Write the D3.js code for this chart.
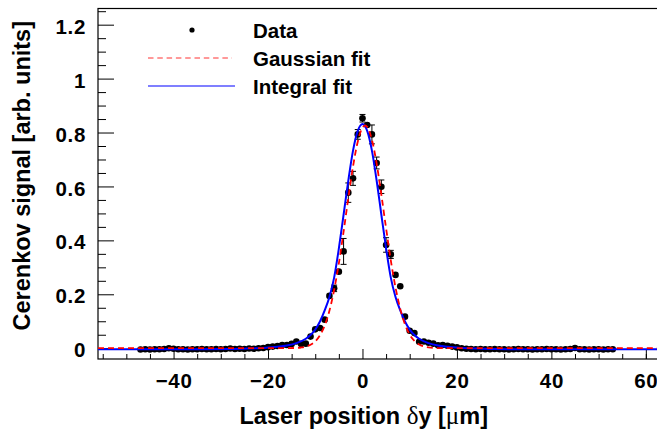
<!DOCTYPE html>
<html>

<head>
    <meta charset="utf-8">
    <script src="https://d3js.org/d3.v7.min.js"></script>
    <style>
        body { margin: 0; background: #fff; }
        text { font-family: "Liberation Sans", Arial, Helvetica, sans-serif; font-weight: bold; fill: #000; }
    </style>
</head>

<body>

    <svg id="chart"></svg>

    <script>

        // measured points: laser position (um), signal, error
        const positions = [-47, -46, -45, -44, -43, -42, -41, -40, -39, -38, -37, -36, -35, -34, -33, -32, -31, -30,
            -29, -28, -27, -26, -25, -24, -23, -22, -21, -20, -19, -18, -17, -16, -15, -14, -13, -12, -11, -10,
            -9, -8, -7, -6, -5, -4, -3, -2, -1, 0, 1, 2, 3, 4, 5, 6, 7, 8, 9, 10, 11, 12, 13, 14, 15, 16, 17,
            18, 19, 20, 21, 22, 23, 24, 25, 26, 27, 28, 29, 30, 31, 32, 33, 34, 35, 36, 37, 38, 39, 40, 41, 42,
            43, 44, 45, 46, 47, 48, 49, 50, 51, 52, 53];
        const signal = [-0.005, -0.004, -0.005, -0.004, -0.004, -0.003, 0.000, -0.002, -0.004, -0.004, -0.005, -0.004,
            -0.004, -0.003, -0.004, -0.004, -0.003, -0.004, -0.003, -0.001, -0.003, -0.002, -0.003, -0.001, -0.002,
            0.000, 0.001, 0.004, 0.006, 0.008, 0.012, 0.012, 0.016, 0.025, 0.016, 0.017, 0.043, 0.070,
            0.075, 0.106, 0.194, 0.222, 0.284, 0.359, 0.577, 0.630, 0.793, 0.853, 0.828, 0.793, 0.687, 0.599,
            0.383, 0.348, 0.272, 0.230, 0.117, 0.065, 0.056, 0.024, 0.025, 0.020, 0.017, 0.011, 0.012,
            0.009, 0.006, 0.003, 0.000, -0.002, -0.003, -0.004, -0.003, -0.004, -0.004, -0.003, -0.004, -0.004,
            -0.005, -0.004, -0.003, -0.004, -0.004, -0.005, -0.004, -0.004, -0.003, -0.004, -0.004, -0.005,
            -0.004, -0.003, 0.001, -0.004, -0.004, -0.005, -0.004, -0.004, -0.005, -0.004, -0.004];
        const errors = [0.003, 0.003, 0.003, 0.003, 0.003, 0.003, 0.003, 0.003, 0.003, 0.003, 0.003, 0.003,
            0.003, 0.003, 0.003, 0.003, 0.003, 0.003, 0.003, 0.003, 0.003, 0.003, 0.003, 0.003, 0.003,
            0.003, 0.003, 0.003, 0.003, 0.003, 0.003, 0.003, 0.003, 0.004, 0.004, 0.004, 0.005, 0.005,
            0.005, 0.006, 0.006, 0.012, 0.008, 0.048, 0.036, 0.026, 0.018, 0.014, 0.010, 0.035, 0.022, 0.025,
            0.027, 0.015, 0.010, 0.008, 0.006, 0.005, 0.004, 0.004, 0.004, 0.003, 0.003, 0.003, 0.003,
            0.003, 0.003, 0.003, 0.003, 0.003, 0.003, 0.003, 0.003, 0.003, 0.003, 0.003, 0.003, 0.003,
            0.003, 0.003, 0.003, 0.003, 0.003, 0.003, 0.003, 0.003, 0.003, 0.003, 0.003, 0.003,
            0.003, 0.003, 0.003, 0.003, 0.003, 0.003, 0.003, 0.003, 0.003, 0.003, 0.003];

        // gaussian fit (red dashed)
        const gaussX = [-56, -20, -16, -14, -13, -12, -11, -10, -9, -8, -7, -6, -5, -4, -3, -2, -1, 0, 0.55, 1, 2, 3, 4,
            5, 6, 7, 8, 9, 10, 11, 12, 13, 14, 15, 17, 21, 63];
        const gaussY = [0, 0, 0.0002, 0.0011, 0.0027, 0.006, 0.0128, 0.0255, 0.048, 0.084, 0.139, 0.216, 0.315, 0.432,
            0.557, 0.674, 0.766, 0.818, 0.826, 0.821, 0.773, 0.685, 0.569, 0.445, 0.326, 0.225, 0.146, 0.0887, 0.0507,
            0.0272, 0.0137, 0.0065, 0.0029, 0.0012, 0.0002, 0, 0];

        // integral fit (blue solid)
        const integralX = [-56, -35, -28, -24, -21, -18, -16, -14, -12, -11, -10, -9, -8, -7, -6, -5, -4, -3, -2, -1, 0,
            1, 2, 3, 4, 5, 6, 7, 8, 9, 10, 11, 12, 14, 16, 18, 21, 24, 28, 35, 63];
        const integralY = [-0.004, -0.004, -0.003, -0.001, 0.001, 0.005, 0.010, 0.019, 0.035, 0.049, 0.069, 0.099, 0.140,
            0.190, 0.262, 0.370, 0.495, 0.622, 0.733, 0.806, 0.832, 0.806, 0.733, 0.622, 0.495, 0.370, 0.262, 0.190,
            0.140, 0.099, 0.069, 0.049, 0.035, 0.019, 0.010, 0.005, 0.001, -0.001, -0.003, -0.004, -0.004];

        const xMajor = [-40, -20, 0, 20, 40, 60];
        const xMinor = [-55, -50, -45, -35, -30, -25, -15, -10, -5, 5, 10, 15, 25, 30, 35, 45, 50, 55, 60];
        const yMajor = [0, 0.2, 0.4, 0.6, 0.8, 1, 1.2];
        const yLabels = ["0", "0.2", "0.4", "0.6", "0.8", "1", "1.2"];
        const yMinor = [0.05, 0.1, 0.15, 0.25, 0.3, 0.35, 0.45, 0.5, 0.55, 0.65, 0.7, 0.75, 0.85, 0.9, 0.95, 1.05, 1.1, 1.15, 1.25];

        const legendItems = ["Data", "Gaussian fit", "Integral fit"];

        var width = 657, height = 433;
        var plot = { left: 98, right: 660, top: 8.5, bottom: 359 };

        var svg = d3.select("#chart")
            .attr("width", width)
            .attr("height", height);

        var x = d3.scaleLinear().domain([-56, 63]).range([plot.left, plot.right]);
        var y = d3.scaleLinear().domain([-0.04, 1.26]).range([plot.bottom, plot.top]);

        // frame
        svg.append("rect")
            .attr("x", plot.left).attr("y", plot.top)
            .attr("width", plot.right - plot.left).attr("height", plot.bottom - plot.top)
            .attr("fill", "none").attr("stroke", "#000").attr("stroke-width", 1.2);

        // x axis, ticks pointing inward
        var gx = svg.append("g").attr("transform", "translate(0," + plot.bottom + ")")
            .call(d3.axisBottom(x).tickValues(xMajor).tickSize(-10).tickPadding(14))
        gx.append("g")
            .call(d3.axisBottom(x).tickValues(xMinor).tickSize(-5).tickFormat(""))
        svg.selectAll(".domain").remove()
        gx.selectAll("text").style("font-size", "20.5px").style("font-family", null).style("letter-spacing", "0.7px")

        // y axis
        var gy = svg.append("g").attr("transform", "translate(" + plot.left + ",0)")
            .call(d3.axisLeft(y).tickValues(yMajor).tickSize(-16).tickPadding(12)
                .tickFormat((d, i) => yLabels[i]))
        gy.append("g")
            .call(d3.axisLeft(y).tickValues(yMinor).tickSize(-8).tickFormat(""))
        svg.selectAll(".domain").remove()
        gy.selectAll("text").style("font-size", "20.5px").style("font-family", null)
            .style("letter-spacing", "0.7px").attr("dy", "0.42em")

        svg.selectAll(".tick line").attr("stroke", "#000").attr("stroke-width", 1)

        // axis titles
        var xt = svg.append("text")
            .attr("x", 488).attr("y", 424)
            .attr("text-anchor", "end")
            .style("font-size", "23.5px")
        xt.append("tspan").text("Laser position ")
        xt.append("tspan").text("δ").style("font-family", "'Liberation Serif', serif").style("font-weight", "normal").style("font-size", "25px")
        xt.append("tspan").text("y [")
        xt.append("tspan").text("μ").style("font-family", "'Liberation Serif', serif").style("font-weight", "normal").style("font-size", "25px")
        xt.append("tspan").text("m]")

        svg.append("text")
            .attr("transform", "translate(30,21) rotate(-90)")
            .attr("text-anchor", "end")
            .style("font-size", "23.5px")
            .text("Cerenkov signal [arb. units]")

        var clip = svg.append("clipPath").attr("id", "clip")
            .append("rect")
            .attr("x", plot.left).attr("y", plot.top)
            .attr("width", plot.right - plot.left).attr("height", plot.bottom - plot.top)

        var curves = svg.append("g").attr("clip-path", "url(#clip)")

        // fits
        var gaussLine = d3.line()
            .x((d, i) => x(gaussX[i]))
            .y(d => y(d))
            .curve(d3.curveMonotoneX)
        var integralLine = d3.line()
            .x((d, i) => x(integralX[i]))
            .y(d => y(d))
            .curve(d3.curveMonotoneX)

        // data with error bars
        var points = positions.map((p, i) => ({ x: p, v: signal[i], e: errors[i] }))

        var bars = curves.append("g")
            .selectAll("g")
            .data(points)
            .join("g")
        bars.append("line")
            .attr("x1", d => x(d.x)).attr("x2", d => x(d.x))
            .attr("y1", d => y(d.v - d.e)).attr("y2", d => y(d.v + d.e))
            .attr("stroke", "#000").attr("stroke-width", 1)
        bars.filter(d => d.e > 0.01).selectAll(".cap")
            .data(d => [d.v - d.e, d.v + d.e].map(v => ({ x: d.x, v: v })))
            .join("line")
            .attr("x1", d => x(d.x) - 3).attr("x2", d => x(d.x) + 3)
            .attr("y1", d => y(d.v)).attr("y2", d => y(d.v))
            .attr("stroke", "#000").attr("stroke-width", 1)

        curves.append("g")
            .selectAll("circle")
            .data(points)
            .join("circle")
            .attr("cx", d => x(d.x))
            .attr("cy", d => y(d.v))
            .attr("r", 3.3)
            .attr("fill", "#000")

        curves.append("path")
            .datum(integralY)
            .attr("d", integralLine)
            .attr("fill", "none")
            .attr("stroke", "#0000ff")
            .attr("stroke-width", 2)

        curves.append("path")
            .datum(gaussY)
            .attr("d", gaussLine)
            .attr("fill", "none")
            .attr("stroke", "#ff0000")
            .attr("stroke-width", 1.8)
            .attr("stroke-dasharray", "6,4")

        // legend
        var legendY = [30, 58, 86];
        svg.append("circle").attr("cx", 192).attr("cy", legendY[0]).attr("r", 2.6).attr("fill", "#000")
        svg.append("line").attr("x1", 148).attr("x2", 232).attr("y1", legendY[1]).attr("y2", legendY[1])
            .attr("stroke", "#ff3333").attr("stroke-width", 1).attr("stroke-dasharray", "5.5,3.8")
        svg.append("line").attr("x1", 148).attr("x2", 235).attr("y1", legendY[2]).attr("y2", legendY[2])
            .attr("stroke", "#0000ff").attr("stroke-width", 1.2)
        svg.selectAll(".legend")
            .data(legendItems)
            .join("text")
            .attr("class", "legend")
            .attr("x", 253)
            .attr("y", (d, i) => legendY[i] + 8)
            .style("font-size", "20.5px")
            .text(d => d)

    </script>
</body>

</html>
